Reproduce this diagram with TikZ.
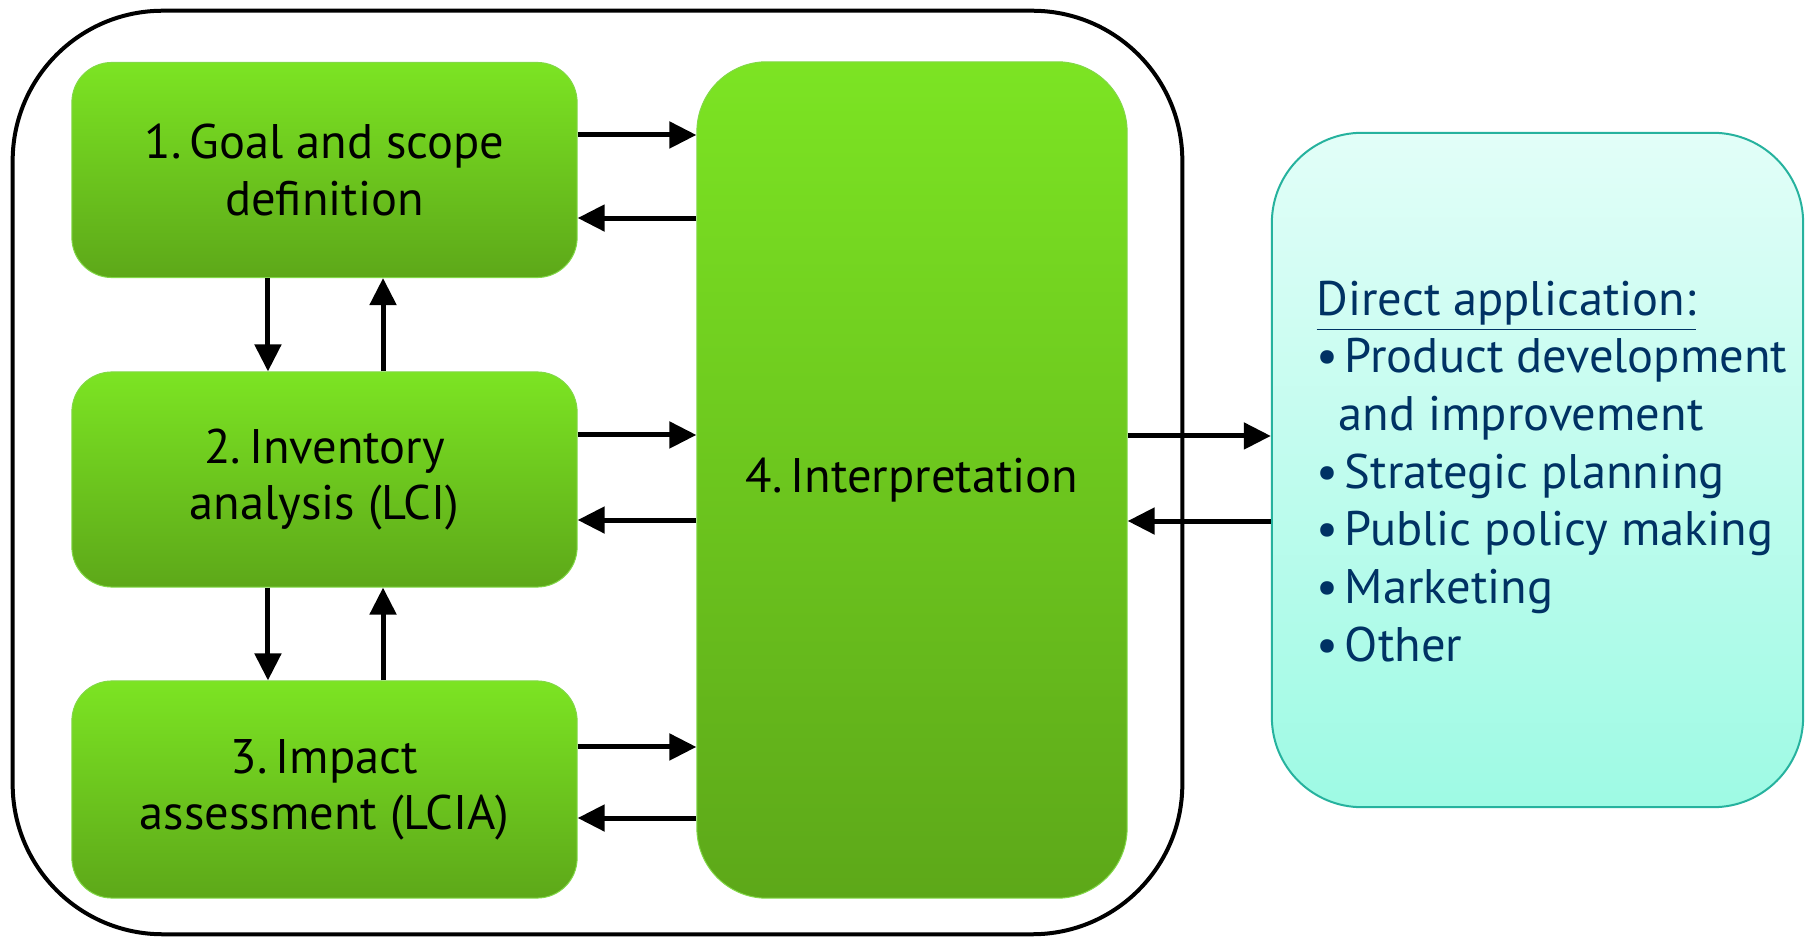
\documentclass[tikz,border=0pt]{standalone}
\usepackage{fontspec}
\setmainfont{PT Sans}
\usetikzlibrary{arrows.meta}

\definecolor{stagetop}{RGB}{124,228,35}
\definecolor{stagebot}{RGB}{93,168,25}
\definecolor{stageline}{RGB}{130,216,72}
\definecolor{apptop}{RGB}{226,254,248}
\definecolor{appbot}{RGB}{158,250,228}
\definecolor{appline}{RGB}{38,178,158}
\definecolor{apptext}{RGB}{0,50,100}

\tikzset{
	stage/.style={top color=stagetop, bottom color=stagebot, draw=stageline, line width=0.01cm,
		rounded corners=0.4cm, minimum width=5.05cm, minimum height=2.15cm, align=center,
		inner sep=0pt, font=\fontsize{13.8}{16}\selectfont},
	flow/.style={-{Triangle[length=0.27cm,width=0.26cm]}, line width=0.05cm},
}

\begin{document}
\begin{tikzpicture}[x=0.01cm, y=-0.01cm]
	\useasboundingbox (0,0) rectangle (1805,937);

	% frame round the four phases
	\node[draw, line width=0.04cm, rounded corners=1.5cm, minimum width=11.69cm, minimum height=9.23cm] (frame) at (597.5,472.5) {};

	\node[stage] (goal) at (324.5,170) {1.\,Goal and scope\\definition};
	\node[stage] (inv) at (324.5,479.5) {2.\,Inventory\\analysis (LCI)};
	\node[stage, minimum height=2.17cm] (imp) at (324.5,789.5) {3.\,Impact\\assessment (LCIA)};
	\node[stage, minimum width=4.3cm, minimum height=8.36cm, rounded corners=0.7cm] (interp) at (912,480) {4.\,Interpretation};

	% applications
	\node[top color=apptop, bottom color=appbot, draw=appline, line width=0.02cm, rounded corners=0.9cm, minimum width=5.31cm, minimum height=6.74cm] (app) at (1537.5,470) {};
	\node[anchor=north west, inner sep=0pt, align=left, text=apptext, font=\fontsize{13.8}{16.4}\selectfont] (applist) at (1316,280)
		{\underline{Direct application:}\\
		\textbullet\kern0.13em Product development\\
		\hspace*{0.22cm}and improvement\\
		\textbullet\kern0.13em Strategic planning\\
		\textbullet\kern0.13em Public policy making\\
		\textbullet\kern0.13em Marketing\\
		\textbullet\kern0.13em Other};

	\draw[flow] ([yshift=0.35cm]goal.east) -- ([yshift=0.35cm]goal.east -| interp.west);
	\draw[flow] ([yshift=-0.48cm]goal.east -| interp.west) -- ([yshift=-0.48cm]goal.east);
	\draw[flow] ([yshift=0.445cm]inv.east) -- ([yshift=0.445cm]inv.east -| interp.west);
	\draw[flow] ([yshift=-0.405cm]inv.east -| interp.west) -- ([yshift=-0.405cm]inv.east);
	\draw[flow] ([yshift=0.425cm]imp.east) -- ([yshift=0.425cm]imp.east -| interp.west);
	\draw[flow] ([yshift=-0.285cm]imp.east -| interp.west) -- ([yshift=-0.285cm]imp.east);

	\draw[flow] ([xshift=-0.565cm]goal.south) -- ([xshift=-0.565cm]inv.north);
	\draw[flow] ([xshift=0.585cm]inv.north) -- ([xshift=0.585cm]goal.south);
	\draw[flow] ([xshift=-0.565cm]inv.south) -- ([xshift=-0.565cm]imp.north);
	\draw[flow] ([xshift=0.585cm]imp.north) -- ([xshift=0.585cm]inv.south);

	\draw[flow] ([yshift=0.44cm]interp.east) -- ([yshift=0.44cm]interp.east -| app.west);
	\draw[flow] ([yshift=-0.41cm]interp.east -| app.west) -- ([yshift=-0.41cm]interp.east);
\end{tikzpicture}
\end{document}
